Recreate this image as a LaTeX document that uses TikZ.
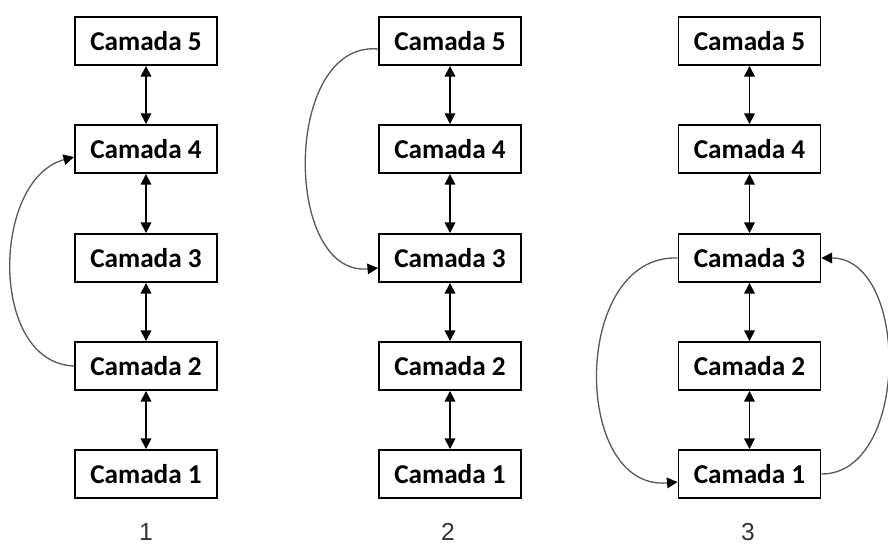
\documentclass[tikz,border=0pt]{standalone}
\usepackage{fontspec}
\setmainfont{Carlito}
\newfontfamily\arialfont{Liberation Sans}
\usetikzlibrary{arrows.meta}
\definecolor{rotulo}{HTML}{333333}
\begin{document}
\begin{tikzpicture}[
	camada/.style={draw, line width=1.1pt, minimum width=2.84cm, minimum height=0.96cm, inner sep=0pt, font=\fontsize{15.5}{17}\selectfont\bfseries},
	seta/.style={{Triangle[width=6pt,length=6pt]}-{Triangle[width=6pt,length=6pt]}, line width=0.85pt},
	volta/.style={-{Triangle[width=6pt,length=6pt,color=black]}, draw=black!65, line width=0.75pt},
	rotulo/.style={font=\arialfont\fontsize{14}{16}\selectfont, text=rotulo}]
			\useasboundingbox (0,0) rectangle (17.76,10.88);
			% coluna 1
			\node[camada] (a5) at (2.92,10.06) {Camada 5};
			\node[camada] (a4) at (2.92,7.90) {Camada 4};
			\node[camada] (a3) at (2.92,5.72) {Camada 3};
			\node[camada] (a2) at (2.92,3.56) {Camada 2};
			\node[camada] (a1) at (2.92,1.40) {Camada 1};
			\node[rotulo] (r1) at (2.92,0.24) {1};
			\draw[seta] (a5) -- (a4);
			\draw[seta] (a4) -- (a3);
			\draw[seta] (a3) -- (a2);
			\draw[seta] (a2) -- (a1);
			\draw[volta] (a2.west) to[out=178, in=195, looseness=1.05] ([yshift=-0.16cm]a4.west);
			% coluna 2
			\node[camada] (b5) at (9.00,10.06) {Camada 5};
			\node[camada] (b4) at (9.00,7.90) {Camada 4};
			\node[camada] (b3) at (9.00,5.72) {Camada 3};
			\node[camada] (b2) at (9.00,3.56) {Camada 2};
			\node[camada] (b1) at (9.00,1.40) {Camada 1};
			\node[rotulo] (r2) at (8.96,0.24) {2};
			\draw[seta] (b5) -- (b4);
			\draw[seta] (b4) -- (b3);
			\draw[seta] (b3) -- (b2);
			\draw[seta] (b2) -- (b1);
			\draw[volta] ([yshift=-0.16cm]b5.west) to[out=175, in=185, looseness=1.12] ([yshift=-0.2cm]b3.west);
			% coluna 3
			\node[camada] (c5) at (14.99,10.06) {Camada 5};
			\node[camada] (c4) at (14.99,7.90) {Camada 4};
			\node[camada] (c3) at (14.99,5.72) {Camada 3};
			\node[camada] (c2) at (14.99,3.56) {Camada 2};
			\node[camada] (c1) at (14.99,1.40) {Camada 1};
			\node[rotulo] (r3) at (14.96,0.24) {3};
			\draw[seta] (c5) -- (c4);
			\draw[seta] (c4) -- (c3);
			\draw[seta] (c3) -- (c2);
			\draw[seta] (c2) -- (c1);
			\draw[volta] (c3.west) to[out=178, in=185, looseness=1.22] ([yshift=-0.16cm]c1.west);
			\draw[volta] (c1.east) to[out=0, in=0, looseness=1.05] (c3.east);
		\end{tikzpicture}
\end{document}
